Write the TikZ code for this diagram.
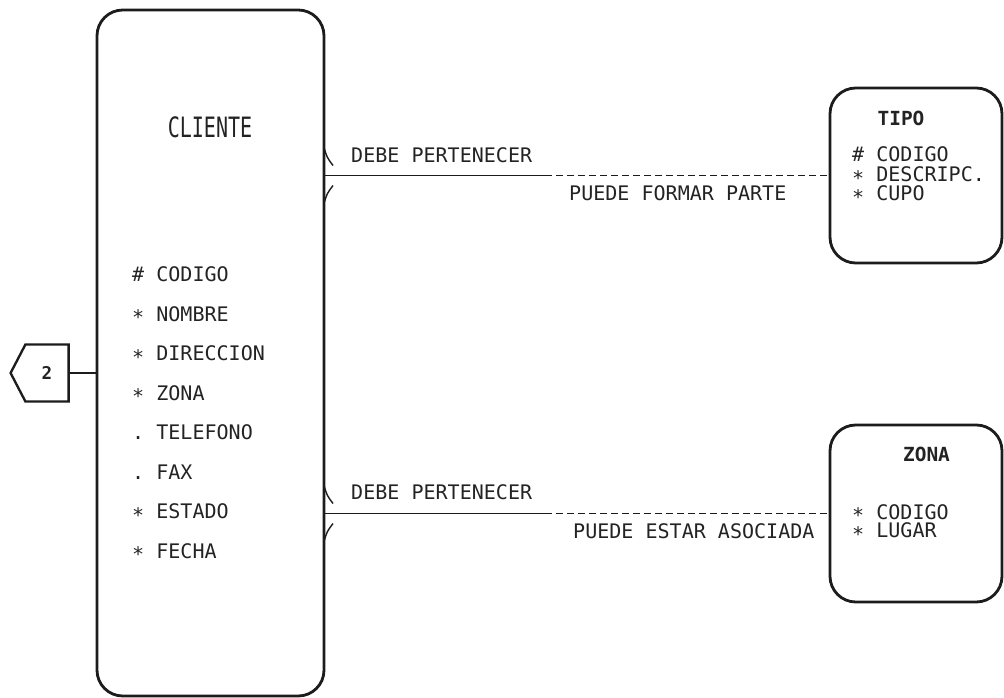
\documentclass[tikz,border=0pt]{standalone}
\usepackage{fontspec}
\setmonofont{DejaVu Sans Mono}
\usetikzlibrary{shapes.symbols}
\definecolor{ink}{RGB}{28,28,28}
\definecolor{txt}{RGB}{35,35,35}
\newdimen\px \px=0.03cm
\newcommand{\obl}{\raisebox{-0.18em}{*}}

\begin{document}
\begin{tikzpicture}[x=0.03cm,y=-0.03cm,
    entity/.style={draw=ink,line width=2.4pt,rounded corners=22pt,inner sep=0pt},
    attr/.style={anchor=base west,inner sep=0pt,text=txt,font=\ttfamily\fontsize{17.1}{17}\selectfont},
    rel/.style={draw=ink,line width=1.4pt},
    optional/.style={rel,dash pattern=on 6.5\px off 4.5\px},
    foot/.style={draw=ink,line width=1.2pt}]
    \useasboundingbox (0,0) rectangle (1004,698);
    \node[entity,minimum width=227\px,minimum height=686\px] (cliente) at (210.5,353) {};
    \node[entity,minimum width=172\px,minimum height=175\px] (tipo) at (916,175.5) {};
    \node[entity,minimum width=172\px,minimum height=177\px] (zona) at (916,513.5) {};
    \node[attr,anchor=center] (clientename) at (210,127) {\scalebox{1}[1.4]{CLIENTE}};
    \foreach \a [count=\i from 0] in {\# CODIGO,\obl{} NOMBRE,\obl{} DIRECCION,\obl{} ZONA,. TELEFONO,. FAX,\obl{} ESTADO,\obl{} FECHA}
        \node[attr] (cattr\i) at (132,281.5+39.5*\i) {\a};
    \node[attr,anchor=center,font=\ttfamily\bfseries\fontsize{16.6}{17}\selectfont] (tiponame) at (901,118) {TIPO};
    \node[attr] (tattr0) at (852,161.5) {\# CODIGO};
    \node[attr] (tattr1) at (852,181.5) {\obl{} DESCRIPC.};
    \node[attr] (tattr2) at (852,200.5) {\obl{} CUPO};
    \node[attr,anchor=center,font=\ttfamily\bfseries\fontsize{16.6}{17}\selectfont] (zonaname) at (926.5,454) {ZONA};
    \node[attr] (zattr0) at (852,519) {\obl{} CODIGO};
    \node[attr] (zattr1) at (852,537.5) {\obl{} LUGAR};
    % relaciones
    \coordinate (m1) at (545,175.5);
    \coordinate (m2) at (545,513.5);
    \draw[rel] (cliente.east |- tipo.west) -- (m1);
    \draw[optional] (m1) -- (tipo.west);
    \draw[rel] (cliente.east |- zona.west) -- (m2);
    \draw[optional] (m2) -- (zona.west);
    \foreach \y in {175.5,513.5} {
        \draw[foot] (324,\y-28) .. controls (327,\y-18) .. (333,\y-10);
        \draw[foot] (333,\y+10) .. controls (327,\y+18) .. (324,\y+28);
    }
    \node[attr] (debe1) at (351,162.5) {DEBE PERTENECER};
    \node[attr] (puede1) at (569,200.5) {PUEDE FORMAR PARTE};
    \node[attr] (debe2) at (351,499.5) {DEBE PERTENECER};
    \node[attr] (puede2) at (573,538) {PUEDE ESTAR ASOCIADA};
    % conector
    \node[draw=ink,line width=2pt,signal,signal to=west,signal pointer angle=125,
        minimum width=58\px,minimum height=57\px,inner sep=0pt,text=txt,
        font=\ttfamily\bfseries\fontsize{15}{17}\selectfont] (link) at (47,373) {2};
    \draw[draw=ink,line width=1.1pt] (link.east) -- (link.east -| cliente.west);
\end{tikzpicture}
\end{document}
